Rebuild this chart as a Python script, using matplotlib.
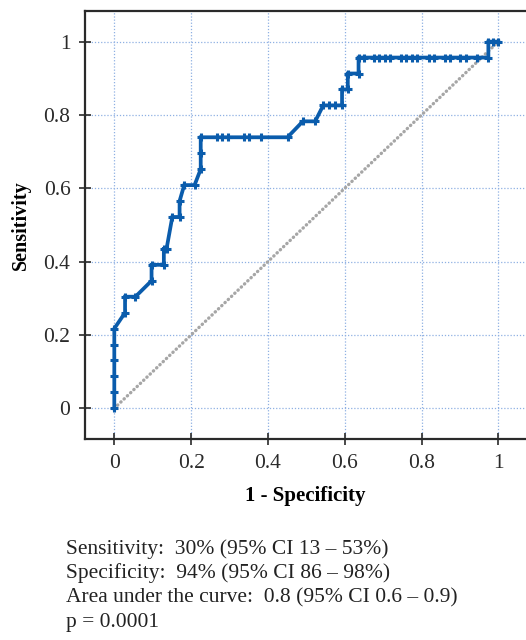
import matplotlib
matplotlib.use("Agg")
import matplotlib.pyplot as plt

# ROC curve points (1 - specificity, sensitivity)
fpr = [0, 0, 0, 0, 0, 0,
       0.028, 0.028, 0.055, 0.097, 0.097, 0.129, 0.129, 0.136,
       0.151, 0.170, 0.170, 0.182, 0.209, 0.225, 0.225, 0.225,
       0.268, 0.281, 0.295, 0.339, 0.352, 0.383, 0.451,
       0.491, 0.523, 0.544, 0.560, 0.575, 0.593, 0.593, 0.608, 0.608,
       0.636, 0.636, 0.651, 0.677, 0.690, 0.706, 0.719, 0.747, 0.760,
       0.774, 0.789, 0.819, 0.832, 0.861, 0.874, 0.900, 0.916, 0.945,
       0.974, 0.974, 0.987, 1.0]
tpr = [0, 1/23, 2/23, 3/23, 4/23, 5/23,
       6/23, 7/23, 7/23, 8/23, 9/23, 9/23, 10/23, 10/23,
       12/23, 12/23, 13/23, 14/23, 14/23, 15/23, 16/23, 17/23,
       17/23, 17/23, 17/23, 17/23, 17/23, 17/23, 17/23,
       18/23, 18/23, 19/23, 19/23, 19/23, 19/23, 20/23, 20/23, 21/23,
       21/23, 22/23, 22/23, 22/23, 22/23, 22/23, 22/23, 22/23, 22/23,
       22/23, 22/23, 22/23, 22/23, 22/23, 22/23, 22/23, 22/23, 22/23,
       22/23, 1, 1, 1]

ticks = [0, 0.2, 0.4, 0.6, 0.8, 1]
tick_labels = ["0", "0.2", "0.4", "0.6", "0.8", "1"]

stats_lines = [
    "Sensitivity:  30% (95% CI 13 \u2013 53%)",
    "Specificity:  94% (95% CI 86 \u2013 98%)",
    "Area under the curve:  0.8 (95% CI 0.6 \u2013 0.9)",
    "p = 0.0001",
]

plt.rcParams['font.family'] = ['Liberation Serif', 'DejaVu Serif']

fig = plt.figure(figsize=(5.26, 6.4), dpi=100)
ax = fig.add_axes([85/526, 1 - 439/640, 1 - 85/526, 428/640])

# chance line
ax.plot([0, 1], [0, 1], color='#a6a6a6', linewidth=2.4,
        linestyle=(0, (0.1, 1.25)), dash_capstyle='round', zorder=2)

ax.plot(fpr, tpr, color='#0a5cac', linewidth=2.7, marker='+',
        markersize=5.5, markeredgewidth=2.2, solid_joinstyle='miter', zorder=3)

ax.set_xlim(-0.0763, 1.072)
ax.set_ylim(-0.0837, 1.0835)
ax.set_xticks(ticks)
ax.set_xticklabels(tick_labels)
ax.set_yticks(ticks)
ax.set_yticklabels(tick_labels)

ax.grid(True, color='#8fb0e3', linestyle=(0, (1, 1.5)), linewidth=0.9)
ax.set_axisbelow(True)

for side in ['left', 'bottom', 'top']:
    ax.spines[side].set_linewidth(1.6)
    ax.spines[side].set_color('#2a2a2a')
ax.spines['right'].set_visible(False)

ax.tick_params(direction='inout', length=9, width=1.2, colors='#2a2a2a',
               labelsize=15.5, pad=6)

ax.set_xlabel('1 - Specificity', fontsize=15, fontweight='bold', labelpad=10)
ax.set_ylabel('Sensitivity', fontsize=14.5, fontweight='bold', labelpad=9)

y0 = 1 - 549/640
for i, line in enumerate(stats_lines):
    fig.text(66/526, y0 - i * 24.5/640, line, fontsize=15.5, color='#222222',
             va='center', ha='left')

fig.savefig("out.png", dpi=100)
